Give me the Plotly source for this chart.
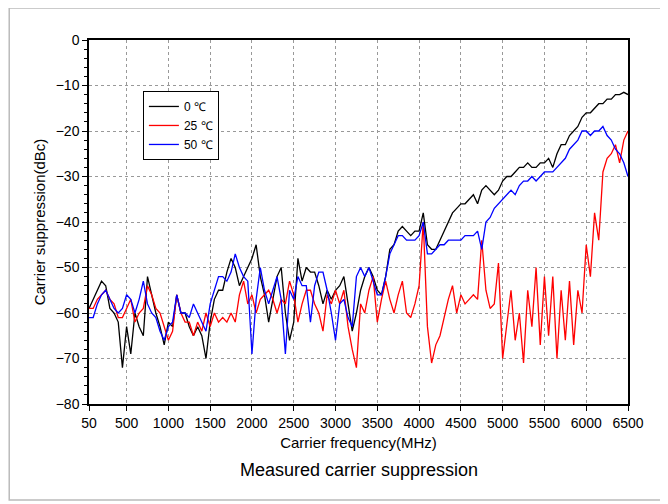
import plotly.graph_objects as go

freq = list(range(50, 6501, 50))

black_0c = [-59, -57, -55, -53, -54, -59, -60, -62, -72, -63, -69, -60, -63, -65, -52, -56, -60, -63, -67, -62,
            -63, -56, -60, -60, -63, -65, -63, -65, -70, -62, -57, -55, -55, -51, -48, -50, -54, -52, -50, -48,
            -45, -52, -56, -62, -57, -52, -50, -60, -66, -62, -48, -53, -50, -51, -51, -54, -58, -55, -57, -55,
            -54, -52, -58, -64, -60, -55, -52, -50, -52, -55, -56, -52, -46, -45, -42, -41, -42, -43, -42, -42,
            -38, -45, -46, -46, -44, -42, -40, -38, -37, -36, -36, -35, -34, -36, -33, -32, -33, -34, -33, -31,
            -30, -30, -29, -28, -28, -27, -28, -28, -27, -27, -26, -28, -25, -23, -23, -21, -20, -19, -17, -16,
            -16, -15, -14, -14, -13, -13, -12, -12, -11.5, -12]

blue_50c = [-61, -61, -58, -56, -55, -57, -59, -60, -59, -56, -57, -60, -57, -53, -58, -60, -61, -64, -66, -63,
            -62, -56, -60, -60, -61, -58, -60, -62, -64, -58, -55, -52, -52, -53, -51, -47, -50, -52, -53, -69,
            -57, -50, -55, -58, -55, -52, -57, -69, -55, -57, -52, -54, -54, -62, -54, -51, -51, -55, -60, -66,
            -58, -57, -61, -63, -52, -50, -52, -50, -53, -56, -56, -52, -47, -45, -43, -43, -44, -44, -44, -43,
            -40, -47, -47, -46, -45, -45, -44, -44, -44, -44, -43, -43, -43, -42, -46, -40, -39, -37, -36, -35,
            -34, -33, -34, -32, -31, -31, -30, -31, -30, -29, -29, -29, -28, -27, -26, -24, -23, -22, -20, -20,
            -21, -20, -20, -19, -21, -22, -24, -25, -27, -30]

red_25c = [-59, -59, -57, -56, -55, -57, -58, -61, -61, -59, -57, -62, -60, -59, -54, -56, -59, -60, -63, -66,
           -64, -56, -60, -62, -62, -65, -62, -64, -60, -63, -60, -62, -61, -62, -60, -62, -56, -53, -58, -56,
           -60, -57, -56, -55, -57, -60, -57, -58, -53, -56, -62, -58, -55, -55, -58, -60, -64, -56, -58, -55,
           -58, -55, -63, -68, -72, -58, -60, -55, -52, -62, -57, -53, -57, -60, -56, -53, -60, -61, -58, -54,
           -40, -63, -71, -67, -65, -61, -57, -54, -60, -56, -58, -57, -56, -57, -44, -55, -59, -58, -49, -70,
           -62, -55, -66, -60, -71, -55, -63, -50, -67, -52, -65, -52, -70, -55, -66, -53, -67, -55, -60, -45,
           -52, -38, -44, -29, -26, -25, -23, -27, -22, -20]

fig = go.Figure()
fig.add_trace(go.Scatter(x=freq, y=black_0c, mode="lines", name="0 ℃", line=dict(color="black", width=1.3)))
fig.add_trace(go.Scatter(x=freq, y=red_25c, mode="lines", name="25 ℃", line=dict(color="red", width=1.3)))
fig.add_trace(go.Scatter(x=freq, y=blue_50c, mode="lines", name="50 ℃", line=dict(color="blue", width=1.3)))

axis_common = dict(showline=True, linecolor="black", linewidth=1.5, mirror=True, ticks="outside",
                   ticklen=5, tickcolor="black", showgrid=True, gridcolor="#999",
                   griddash="dot", gridwidth=1, zeroline=False, automargin=False,
                   tickfont=dict(family="Arial, Liberation Sans", size=14, color="black"),
                   minor=dict(ticks="outside", ticklen=3, tickcolor="black", showgrid=False))

fig.update_xaxes(range=[50, 6500], tickvals=[50] + list(range(500, 6501, 500)),
                 title=dict(text="Carrier frequency(MHz)", font=dict(family="Arial, Liberation Sans", size=15),
                            standoff=8), **axis_common)
fig.update_yaxes(range=[-80, 0], dtick=10,
                 title=dict(text="Carrier suppression(dBc)", font=dict(family="Arial, Liberation Sans", size=15),
                            standoff=6), **axis_common)

fig.update_layout(
    width=668, height=504,
    margin=dict(l=81, r=48, t=32, b=108),
    plot_bgcolor="white", paper_bgcolor="white",
    font=dict(family="Arial, Liberation Sans", color="black"),
    legend=dict(x=0.1, y=0.86, xanchor="left", yanchor="top", bgcolor="white",
                bordercolor="black", borderwidth=1, font=dict(size=12),
                tracegroupgap=0, itemwidth=30),
    showlegend=True,
    annotations=[dict(text="Measured carrier suppression", xref="paper", yref="paper",
                      x=0.5, y=-0.18, xanchor="center", yanchor="middle", showarrow=False,
                      font=dict(size=18, family="Arial, Liberation Sans", color="black"))],
    shapes=[dict(type="rect", xref="paper", yref="paper", x0=-0.148, x1=1.065, y0=-0.264, y1=1.088,
                 line=dict(color="#bbb", width=1.5), layer="below")],
)

fig.write_html("out.html")
